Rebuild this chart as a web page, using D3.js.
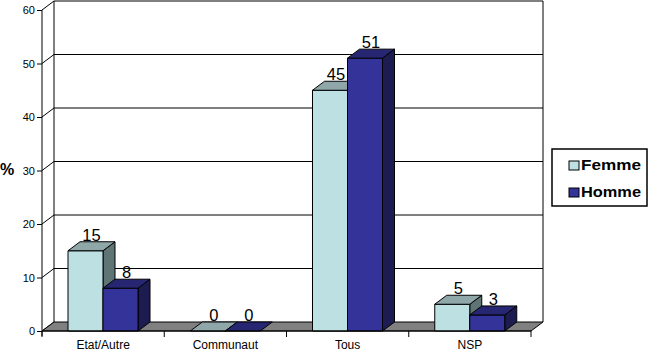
<!DOCTYPE html>
<html><head><meta charset="utf-8">
<script src="https://cdn.jsdelivr.net/npm/d3@7"></script>
<style>body{margin:0;background:#fff}svg{display:block;font-family:"Liberation Sans",Arial,sans-serif}</style>
</head><body>
<svg id="c" width="648" height="356"></svg>
<script>
const categories = ["Etat/Autre","Communaut","Tous","NSP"];
const seriesNames = ["Femme","Homme"];
const femme = [15, 0, 45, 5];
const homme = [8, 0, 51, 3];
const yTicks = [0,10,20,30,40,50,60];

const colors = {
  Femme: {front:"#bde1e3", top:"#8fa7a8", side:"#5f7474"},
  Homme: {front:"#333399", top:"#262672", side:"#1c1c50"}
};
const DX = 12, DY = -9;
const svg = d3.select("#c");
const y = d3.scaleLinear().domain([0,60]).range([331,10]);
const x = d3.scaleBand().domain(categories).range([42,531]);
const x1 = d3.scaleBand().domain(seriesNames).range([26,96]);
const xL = 42, xR = 531, y0 = y(0);

// back wall gridlines + diagonals
const g = svg.append("g").attr("stroke","#000").attr("stroke-width",1).attr("fill","none");
yTicks.forEach(t => {
  if (t > 0) g.append("line").attr("x1",xL+DX).attr("x2",xR+DX).attr("y1",y(t)+DY).attr("y2",y(t)+DY);
  g.append("line").attr("x1",xL).attr("y1",y(t)).attr("x2",xL+DX).attr("y2",y(t)+DY);
});
g.append("line").attr("x1",xL+DX).attr("x2",xL+DX).attr("y1",y(60)+DY).attr("y2",y0+DY);
g.append("line").attr("x1",xR+DX).attr("x2",xR+DX).attr("y1",y(60)+DY).attr("y2",y0+DY);

// floor
svg.append("path")
  .attr("d",`M${xL},${y0}L${xR},${y0}L${xR+DX},${y0+DY}L${xL+DX},${y0+DY}Z`)
  .attr("fill","#808080").attr("stroke","#000").attr("stroke-width",1);

// bars
const data = [];
categories.forEach((c,i) => {
  data.push({cat:c, s:"Femme", v:femme[i]});
  data.push({cat:c, s:"Homme", v:homme[i]});
});
const bars = svg.append("g");
data.forEach(d => {
  const xa = x(d.cat) + x1(d.s), xb = xa + x1.bandwidth();
  const yt = y(d.v);
  const col = colors[d.s];
  const bg = bars.append("g").attr("stroke","#000").attr("stroke-width",1).attr("stroke-linejoin","round");
  if (d.v > 0) {
    bg.append("path").attr("d",`M${xb},${yt}L${xb+DX},${yt+DY}L${xb+DX},${y0+DY}L${xb},${y0}Z`).attr("fill",col.side);
    bg.append("rect").attr("x",xa).attr("y",yt).attr("width",xb-xa).attr("height",y0-yt).attr("fill",col.front);
  }
  bg.append("path").attr("d",`M${xa},${yt}L${xb},${yt}L${xb+DX},${yt+DY}L${xa+DX},${yt+DY}Z`).attr("fill",col.top);
});

// value labels
svg.append("g").selectAll("text").data(data).join("text")
  .attr("x", d => x(d.cat) + x1(d.s) + x1.bandwidth()/2 + DX/2)
  .attr("y", d => y(d.v) + DY - 1)
  .attr("text-anchor","middle").attr("font-size",16.5).attr("fill","#000")
  .text(d => d.v);

// y axis
const ya = svg.append("g").attr("transform",`translate(${xL},0)`)
  .call(d3.axisLeft(y).tickValues(yTicks).tickSize(5).tickPadding(2).tickFormat(d3.format("d")));
ya.select(".domain").attr("d",`M0,${y(60)}V${y0+5}`).attr("stroke","#000");
ya.selectAll("text").attr("font-size",11).attr("font-family","Liberation Sans, Arial, sans-serif").attr("fill","#000");
ya.selectAll("line").attr("stroke","#000");

// x axis
const xa = svg.append("g").attr("transform",`translate(0,${y0})`);
xa.append("line").attr("x1",xL).attr("x2",xR).attr("stroke","#000");
[...categories.map(c=>x(c)), xR].forEach(v => xa.append("line").attr("x1",v).attr("x2",v).attr("y1",0).attr("y2",6).attr("stroke","#000"));
xa.selectAll("text.cl").data(categories).join("text").attr("class","cl")
  .attr("x", c => x(c) + x.bandwidth()/2).attr("y",18)
  .attr("text-anchor","middle").attr("font-size",12).attr("fill","#000").text(c => c);

// y title
svg.append("text").attr("x",0).attr("y",175).attr("font-size",16).attr("font-weight","bold").text("%");

// legend
const lg = svg.append("g").attr("transform","translate(552,149)");
lg.append("rect").attr("width",95).attr("height",57).attr("fill","#fff").attr("stroke","#000").attr("stroke-width",1.5);
seriesNames.forEach((s,i) => {
  lg.append("rect").attr("x",17).attr("y",12+i*27).attr("width",10).attr("height",9)
    .attr("fill",colors[s].front).attr("stroke","#000").attr("stroke-width",1);
  lg.append("text").attr("x",29).attr("y",20.5+i*27).attr("font-size",15).attr("font-weight","bold")
    .attr("textLength", 60).attr("lengthAdjust","spacingAndGlyphs").text(s);
});
</script>
</body></html>
